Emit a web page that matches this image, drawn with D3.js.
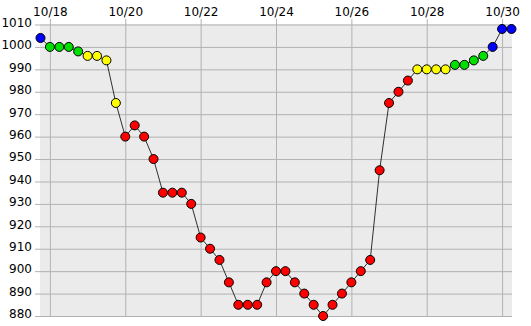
<!DOCTYPE html>
<html>
<head>
<meta charset="utf-8">
<script src="https://cdn.jsdelivr.net/npm/d3@7"></script>
<style>
  body { margin: 0; background: #fff; }
  text { font-family: "DejaVu Sans", sans-serif; font-size: 12px; fill: #000; }
</style>
</head>
<body>
<div id="chart"></div>
<script>
// observation times (6 hourly), month-day hour
var times = [
  "10-17 18","10-18 00","10-18 06","10-18 12","10-18 18","10-19 00","10-19 06","10-19 12","10-19 18",
  "10-20 00","10-20 06","10-20 12","10-20 18","10-21 00","10-21 06","10-21 12","10-21 18",
  "10-22 00","10-22 06","10-22 12","10-22 18","10-23 00","10-23 06","10-23 12","10-23 18",
  "10-24 00","10-24 06","10-24 12","10-24 18","10-25 00","10-25 06","10-25 12","10-25 18",
  "10-26 00","10-26 06","10-26 12","10-26 18","10-27 00","10-27 06","10-27 12","10-27 18",
  "10-28 00","10-28 06","10-28 12","10-28 18","10-29 00","10-29 06","10-29 12","10-29 18",
  "10-30 00","10-30 06"
];
// central pressure (hPa)
var pressure = [
  1004,1000,1000,1000,998,996,996,994,975,
  960,965,960,950,935,935,935,930,
  915,910,905,895,885,885,885,895,
  900,900,895,890,885,880,885,890,
  895,900,905,945,975,980,985,990,
  990,990,990,992,992,994,996,1000,
  1008,1008
];
// point colour class
var grade = [
  "b","g","g","g","g","y","y","y","y",
  "r","r","r","r","r","r","r","r",
  "r","r","r","r","r","r","r","r",
  "r","r","r","r","r","r","r","r",
  "r","r","r","r","r","r","r","y",
  "y","y","y","g","g","g","g","b",
  "b","b"
];
var yTicks = [880,890,900,910,920,930,940,950,960,970,980,990,1000,1010];
var xTickDays = ["10-18","10-20","10-22","10-24","10-26","10-28","10-30"];
var gradeColor = {b: "#0000ff", g: "#00e000", y: "#ffff00", r: "#ff0000"};

var W = 531, H = 326;
var pLeft = 40, pRight = 512, pTop = 24, pBottom = 316;

var parse = d3.utcParse("%Y-%m-%d %H");
var data = times.map(function(t, i) {
  return {t: parse("2013-" + t), v: pressure[i], c: gradeColor[grade[i]]};
});

var x = d3.scaleUtc()
  .domain([parse("2013-10-17 18"), parse("2013-10-30 06")])
  .range([pLeft + 0.5, pRight - 0.5]);
var y = d3.scaleLinear().domain([880, 1010]).range([pBottom, pTop + 0.5]);

var svg = d3.select("#chart").append("svg")
  .attr("width", W).attr("height", H);

// plot background
svg.append("rect")
  .attr("x", pLeft).attr("y", pTop)
  .attr("width", pRight - pLeft).attr("height", pBottom - pTop)
  .attr("fill", "#ebebeb");

// horizontal grid + left ticks (ticks start 5px left of the plot)
var yAxis = d3.axisLeft(y).tickValues(yTicks).tickFormat(d3.format("d"))
  .tickSize(-(pRight - 35)).tickPadding(3);
var gy = svg.append("g").attr("transform", "translate(35,0)").call(yAxis);
gy.select(".domain").remove();
gy.selectAll("line").attr("stroke", "#b2b2b2");
gy.selectAll("text")
  .attr("x", -3)
  .attr("dy", "0.15em")
  .style("font-size", "12px");

// vertical grid + top ticks (ticks start 5px above the plot)
var xDates = xTickDays.map(function(d) { return parse("2013-" + d + " 00"); });
var xAxis = d3.axisTop(x).tickValues(xDates).tickFormat(d3.utcFormat("%m/%d"))
  .tickSize(-(pBottom - 19)).tickPadding(3);
var gx = svg.append("g").attr("transform", "translate(0,19)").call(xAxis);
gx.select(".domain").remove();
gx.selectAll("line").attr("stroke", "#b2b2b2");
gx.selectAll("text")
  .attr("y", -3)
  .attr("dy", 0)
  .style("font-size", "12px");

// track line
var line = d3.line()
  .x(function(d) { return x(d.t); })
  .y(function(d) { return y(d.v); });
svg.append("path")
  .datum(data)
  .attr("d", line)
  .attr("fill", "none")
  .attr("stroke", "#000")
  .attr("stroke-width", 0.8);

// points
svg.selectAll(".pt")
  .data(data)
  .enter()
  .append("circle")
  .attr("class", "pt")
  .attr("cx", function(d) { return x(d.t); })
  .attr("cy", function(d) { return y(d.v); })
  .attr("r", 4.5)
  .attr("fill", function(d) { return d.c; })
  .attr("stroke", "#000")
  .attr("stroke-width", 1);
</script>
</body>
</html>
